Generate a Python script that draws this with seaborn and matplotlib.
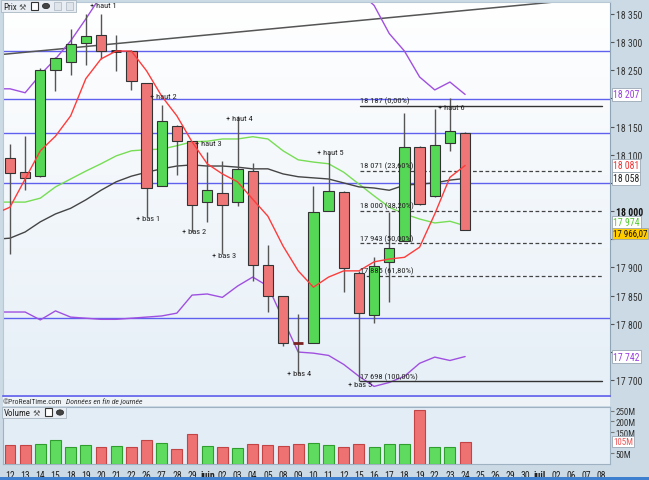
import numpy as np
import matplotlib
matplotlib.use("Agg")
import matplotlib.pyplot as plt
import seaborn as sns
from matplotlib.colors import LinearSegmentedColormap
from matplotlib.patches import Rectangle, Circle
from matplotlib import font_manager

# --- data ---
days = ["12", "13", "14", "15", "18", "19", "20", "21", "22", "26", "27", "28", "29", "juin",
        "02", "03", "04", "05", "08", "09", "10", "11", "12", "15", "16", "17", "18", "19",
        "22", "23", "24", "25", "26", "29", "30", "juil.", "02", "06", "07", "08"]

opens = [18094, 18069, 18062, 18251, 18265, 18298, 18313, 18284, 18284, 18227, 18045, 18151, 18124, 18016,
         18032, 18016, 18071, 17904, 17849, 17768, 17766, 18000, 18034, 17890, 17815, 17910, 17947, 18114,
         18027, 18121, 18139]
highs = [18119, 18133, 18254, 18273, 18323, 18350, 18350, 18313, 18285, 18227, 18188, 18152, 18124, 18105,
         18089, 18169, 18085, 17940, 17850, 17817, 18045, 18103, 18035, 17893, 17918, 17998, 18174, 18116,
         18181, 18200, 18140]
lows = [17924, 18037, 18060, 18213, 18242, 18259, 18270, 18249, 18215, 17990, 18045, 18064, 17963, 17981,
        17924, 18009, 17876, 17821, 17760, 17711, 17766, 18000, 17856, 17698, 17801, 17838, 17947, 18011,
        18025, 18107, 17966]
closes = [18068, 18059, 18251, 18272, 18297, 18311, 18284, 18284, 18231, 18041, 18160, 18124, 18011, 18037,
          18011, 18075, 17904, 17849, 17766, 17764, 17998, 18036, 17899, 17819, 17902, 17934, 18114, 18013,
          18117, 18142, 17966.07]
volumes = [88, 87, 92, 111, 79, 87, 82, 86, 82, 111, 97, 69, 139, 86, 79, 74, 95, 88, 86, 92, 98, 88, 82,
           92, 78, 92, 95, 255, 80, 78, 105]  # millions

# indicators start one session before the first visible candle
ma_red = [17995, 18007, 18057, 18107, 18133, 18169, 18235, 18270, 18284, 18284, 18249, 18204, 18169, 18123,
          18084, 18066, 18052, 18021, 17991, 17938, 17894, 17865, 17883, 17894, 17894, 17910, 17915, 17918,
          17936, 17995, 18060, 18081]
ma_green = [18016, 18016, 18016, 18023, 18043, 18057, 18071, 18084, 18098, 18107, 18109, 18110, 18116, 18123,
            18124, 18128, 18128, 18132, 18128, 18107, 18091, 18087, 18084, 18069, 18048, 18027, 18007, 17995,
            17986, 17979, 17982, 17974]
ma_black = [17950, 17952, 17963, 17981, 17995, 18005, 18020, 18037, 18052, 18062, 18069, 18075, 18080, 18082,
            18080, 18080, 18078, 18075, 18075, 18066, 18061, 18059, 18057, 18050, 18043, 18041, 18037, 18046,
            18048, 18050, 18055, 18058]
bb_upper = [18217, 18217, 18210, 18242, 18270, 18302, 18341, 18382, 18420, 18450, 18470, 18485, 18495, 18500,
            18500, 18495, 18485, 18475, 18465, 18455, 18445, 18435, 18420, 18405, 18389, 18365, 18315, 18284,
            18238, 18215, 18229, 18207]
bb_lower = [17821, 17821, 17821, 17807, 17823, 17812, 17810, 17808, 17808, 17810, 17812, 17814, 17819, 17851,
            17853, 17847, 17867, 17883, 17867, 17808, 17750, 17748, 17744, 17728, 17707, 17689, 17696, 17707,
            17730, 17741, 17735, 17742]

blue_levels = [18284, 18199, 18139, 18050, 17810]
fib_levels = [18187, 18071, 18000, 17943, 17885, 17698]
fib_pct = ["0,00%", "23,60%", "38,20%", "50,00%", "61,80%", "100,00%"]
fib_span = [23.05, 39.0]
trend_x = [-0.5, 39.0]
trend_y = [18278, 18379]

pivot_text = ["haut 1", "haut 2", "haut 3", "haut 4", "haut 5", "haut 6",
              "bas 1", "bas 2", "bas 3", "bas 4", "bas 5"]
pivot_x = [5.3, 9.25, 12.2, 14.25, 20.25, 28.2, 8.3, 11.35, 13.3, 18.25, 22.3]
pivot_y = [18366, 18204, 18121, 18165, 18105, 18185, 17988, 17965, 17922, 17712, 17693]

# price levels whose scale labels sit under a value box
hidden_ticks = [18200, 18050, 17950, 17750]


def fr(v):
    return f"{int(round(v)):,}".replace(",", " ")


sns.set_style("white")
# pick a condensed face if one is around, else plain Liberation Sans
names = {f.name for f in font_manager.fontManager.ttflist}
fams = [f for f in ["Roboto Condensed", "Liberation Sans Narrow", "Liberation Sans"] if f in names]
condensed = fams[0] != "Liberation Sans"
plt.rcParams["font.family"] = fams + ["DejaVu Sans"]
fs = 7 if condensed else 6  # scale labels
fs_s = fs - 1  # annotations inside the chart

W, H = 649, 481
fig = plt.figure(figsize=(W / 100, H / 100), dpi=100, facecolor="#cbdae5")


def px_axes(x0, y0, x1, y1):
    return fig.add_axes([x0 / W, 1 - y1 / H, (x1 - x0) / W, (y1 - y0) / H])


ax = px_axes(3, 3, 610, 397)
axv = px_axes(3, 408, 610, 465)

xlim = (-0.46, 39.55)
ylim = (17672, 18371)

# background gradient of the price panel
grad = LinearSegmentedColormap.from_list("bg", ["#ffffff", "#e6eff7"])
ax.imshow(np.linspace(0, 1, 200).reshape(-1, 1), cmap=grad, aspect="auto",
          extent=[xlim[0], xlim[1], ylim[0], ylim[1]], origin="upper", zorder=0)

for lv in blue_levels:
    ax.axhline(lv, color="#6060ee", lw=1, zorder=1)

ax.plot(trend_x, trend_y, color="#555555", lw=1.1, zorder=2)

idx = np.arange(len(opens))
line_x = np.arange(-1, len(opens))
sns.lineplot(x=line_x, y=bb_upper, ax=ax, color="#a050e0", lw=1, zorder=2)
sns.lineplot(x=line_x, y=bb_lower, ax=ax, color="#a050e0", lw=1, zorder=2)
sns.lineplot(x=line_x, y=ma_green, ax=ax, color="#77dd55", lw=1, zorder=2)
sns.lineplot(x=line_x, y=ma_black, ax=ax, color="#444444", lw=1, zorder=2)

# candles
up = np.array(closes) >= np.array(opens)
ax.vlines(idx, lows, highs, color="#555555", lw=1, zorder=3)
for i in idx:
    o, c = opens[i], closes[i]
    if abs(c - o) < 5:
        ax.hlines((o + c) / 2, i - 0.33, i + 0.33, color="#222222" if up[i] else "#7a2020", lw=2, zorder=4)
        continue
    ax.bar(i, abs(c - o), bottom=min(o, c), width=0.68,
           color="#55d855" if up[i] else "#ee7676", edgecolor="#333333", lw=0.8, zorder=4)

sns.lineplot(x=line_x, y=ma_red, ax=ax, color="#ff3b3b", lw=1, zorder=5)

# fibonacci retracement
for k, (lv, pct) in enumerate(zip(fib_levels, fib_pct)):
    solid = k in (0, len(fib_levels) - 1)
    ax.plot(fib_span, [lv, lv], color="#333333" if solid else "#444444",
            lw=1 if solid else 0.9, ls="-" if solid else (0, (3, 2)), zorder=3)
    ax.text(fib_span[0], lv + 3, f"{fr(lv)} ({pct})", fontsize=fs_s, color="#222222",
            ha="left", va="bottom", zorder=6)

for t, x, y in zip(pivot_text, pivot_x, pivot_y):
    ax.text(x, y, "+ " + t, fontsize=fs_s, color="#222222", ha="left", va="center", zorder=6)

ax.set_xlim(*xlim)
ax.set_ylim(*ylim)
ax.set_xticks([])
yt = list(range(17700, 18351, 50))
ax.yaxis.tick_right()
ax.set_yticks(yt)
ax.set_yticklabels(["" if v in hidden_ticks else fr(v) for v in yt], fontsize=fs, color="#333333")
for lab, v in zip(ax.get_yticklabels(), yt):
    if v == 18000:
        lab.set_fontweight("bold")
        lab.set_color("#111111")
ax.tick_params(axis="y", length=3, width=0.8, color="#555555", pad=1)
for s in ["top", "left"]:
    ax.spines[s].set_color("#b8c8d6")
ax.spines["right"].set_color("#8fa5b5")
ax.spines["bottom"].set_color("#6060ee")
ax.spines["bottom"].set_linewidth(1.2)

# value boxes on the price scale
ytr = ax.get_yaxis_transform()
boxes = [(18207, "18 207", "#9a40e0", "white"), (18081, "18 081", "#ee3333", "white"),
         (18058, "18 058", "#222222", "white"), (17974, "17 974", "#55cc33", "white"),
         (17966.07, "17 966,07", "#111111", "#ffcc00"), (17742, "17 742", "#9a40e0", "white")]
box_offset = {17974: 2.4, 17966.07: -2.4}
for v, s, fc, bg in boxes:
    dy = box_offset.get(v, 0)
    ax.annotate(s, xy=(1.0, v), xycoords=ytr, xytext=(2.2, dy), textcoords="offset points",
                fontsize=fs if len(s) < 8 else fs - 0.6, color=fc, ha="left", va="center",
                annotation_clip=False, zorder=10,
                bbox=dict(boxstyle="square,pad=0.12", fc=bg, ec="#9aa8b4", lw=0.6))

# volume panel
axv.set_facecolor("#e2edf6")
vcol = ["#5fdc5f" if u else "#ee7272" for u in up]
vedge = ["#2f9e2f" if u else "#c24444" for u in up]
axv.bar(idx, volumes, width=0.72, color=vcol, edgecolor=vedge, lw=0.8, zorder=3)
axv.set_xlim(*xlim)
axv.set_ylim(0, 268)
axv.set_xticks(range(len(days)))
axv.set_xticklabels(days, fontsize=fs, color="#222222")
for lab, d in zip(axv.get_xticklabels(), days):
    if not d.isdigit():
        lab.set_fontweight("bold")
axv.tick_params(axis="x", length=2, pad=2, color="#777777")
axv.yaxis.tick_right()
axv.set_yticks([50, 150, 200, 250])
axv.set_yticklabels(["50M", "150M", "200M", "250M"], fontsize=fs - 0.5, color="#333333")
axv.tick_params(axis="y", length=3, pad=1, color="#777777")
for s in axv.spines.values():
    s.set_color("#9fb2c2")
axv.annotate("105M", xy=(1.0, 105), xycoords=axv.get_yaxis_transform(), xytext=(2.2, 0),
             textcoords="offset points", fontsize=fs - 0.5, color="#ee5555", ha="left", va="center",
             annotation_clip=False, zorder=10,
             bbox=dict(boxstyle="square,pad=0.12", fc="white", ec="#9aa8b4", lw=0.6))


# toolbars and captions
def fx(x):
    return x / W


def fy(y):
    return 1 - y / H


def toolbar(x0, y0, x1, y1, label, icon_x, greyed):
    yc = fy((y0 + y1) / 2)
    fig.add_artist(Rectangle((fx(x0), fy(y1)), fx(x1 - x0), (y1 - y0) / H, transform=fig.transFigure,
                             fc="#e8eef3", ec="#a9b7c3", lw=0.6, zorder=20))
    fig.text(fx(x0 + 2), yc, label, fontsize=fs - 0.5, color="#222222", va="center", zorder=21)
    fig.text(fx(icon_x), yc, "\u2692", fontsize=6, color="#555555", va="center",
             family="DejaVu Sans", zorder=21)
    fig.add_artist(Rectangle((fx(icon_x + 12), fy(y1 - 2)), fx(7), 8 / H, transform=fig.transFigure,
                             fc="white", ec="#333333", lw=0.8, zorder=21))
    fig.add_artist(Circle((fx(icon_x + 27), yc), 3.6 / W, transform=fig.transFigure,
                          fc="#444444", ec="#222222", lw=0.5, zorder=21))
    for k in range(greyed):
        fig.add_artist(Rectangle((fx(icon_x + 35 + 12 * k), fy(y1 - 2)), fx(7), 8 / H,
                                 transform=fig.transFigure, fc="#dfe5ea", ec="#b5bfc8", lw=0.6, zorder=21))


toolbar(1, 1, 76, 13, "Prix", 19, 2)
toolbar(2, 408, 66, 419, "Volume", 33, 0)

fig.add_artist(Rectangle((fx(3), fy(407)), fx(607), 9 / H, transform=fig.transFigure,
                         fc="#eef3f8", ec="none", zorder=1))
fig.text(fx(3), fy(402), "\u00a9ProRealTime.com", fontsize=5.5, color="#333333", va="center")
fig.text(fx(66), fy(402), "Donn\u00e9es en fin de journ\u00e9e", fontsize=5.5, color="#333333",
         va="center", style="italic")
fig.add_artist(Rectangle((0, 0), 1, 3 / H, transform=fig.transFigure, fc="#3f7fd0", ec="none", zorder=5))

fig.savefig("out.png", dpi=100)
